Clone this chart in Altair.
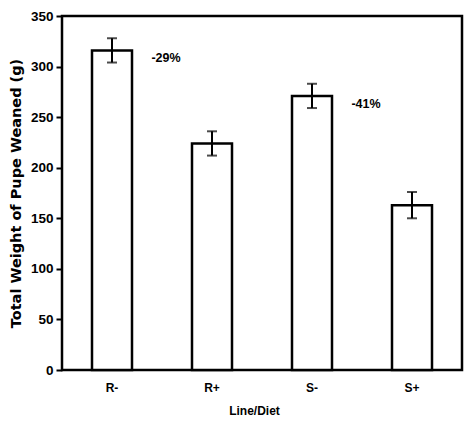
import altair as alt
import pandas as pd

categories = ["R-", "R+", "S-", "S+"]
values = [316, 224, 271, 163]
errors = [12, 12, 12, 13]
ann_cat = ["R-", "S-"]
ann_val = [316, 271]
ann_text = ["-29%", "-41%"]

df = pd.DataFrame({"cat": categories, "val": values, "err": errors})
df["lo"] = df["val"] - df["err"]
df["hi"] = df["val"] + df["err"]
ann = pd.DataFrame({"cat": ann_cat, "val": ann_val, "txt": ann_text})

FONT = "Liberation Sans"

x = alt.X("cat:N", sort=categories, title="Line/Diet",
          scale=alt.Scale(paddingInner=0.6, paddingOuter=0.3),
          axis=alt.Axis(labelAngle=0, ticks=False, labelFontSize=12, labelFontWeight="bold",
                        labelFont=FONT, labelColor="black", labelPadding=12,
                        titleFont=FONT, titleFontSize=12, titleFontWeight="bold",
                        titleColor="black", titlePadding=12, titleX=192, domain=False))
y = alt.Y("val:Q", title="Total Weight of Pupe Weaned (g)",
          scale=alt.Scale(domain=[0, 350], nice=False),
          axis=alt.Axis(values=[0, 50, 100, 150, 200, 250, 300, 350], grid=False,
                        tickSize=6, tickWidth=2, tickColor="black", labelFontSize=13.5,
                        labelFontWeight="bold", labelFont=FONT, labelColor="black", labelPadding=3,
                        titleFont="DejaVu Sans", titleFontSize=14.5, titleFontWeight="bold",
                        titleColor="black", titlePadding=7, domain=False))

bars = alt.Chart(df).mark_bar(fill="white", stroke="black", strokeWidth=2.5).encode(x=x, y=y)
rules = alt.Chart(df).mark_rule(color="black", strokeWidth=2).encode(
    x=alt.X("cat:N", sort=categories), y="lo:Q", y2="hi:Q")
caps_hi = alt.Chart(df).mark_tick(color="black", thickness=2, size=10, orient="horizontal").encode(
    x=alt.X("cat:N", sort=categories), y="hi:Q")
caps_lo = alt.Chart(df).mark_tick(color="black", thickness=2, size=10, orient="horizontal").encode(
    x=alt.X("cat:N", sort=categories), y="lo:Q")
texts = alt.Chart(ann).mark_text(dx=54, dy=8, fontSize=12.5, fontWeight="bold", font=FONT,
                                 color="black").encode(
    x=alt.X("cat:N", sort=categories), y="val:Q", text="txt:N")

chart = alt.layer(bars, rules, caps_hi, caps_lo, texts).properties(
    width=400, height=354,
    background="white",
    autosize=alt.AutoSizeParams(type="none"),
    padding={"left": 54, "top": 8, "right": 3, "bottom": 48},
).configure_view(stroke="black", strokeWidth=2.5)

chart.save("out.html", embed_options={"renderer": "svg", "actions": False})
